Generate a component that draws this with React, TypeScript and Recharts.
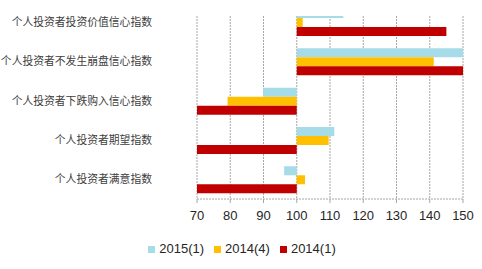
import { BarChart, Bar, XAxis, YAxis, CartesianGrid, Legend, Rectangle } from 'recharts';

// 指数基准线为 100，柱子从 100 向左右伸展
const BASE = 100;

const categories = [
  '个人投资者投资价值信心指数',
  '个人投资者不发生崩盘信心指数',
  '个人投资者下跌购入信心指数',
  '个人投资者期望指数',
  '个人投资者满意指数',
];

const series2015q1 = [114, 152, 89.9, 111.3, 96.2];
const series2014q4 = [101.8, 141.2, 79.2, 109.6, 102.5];
const series2014q1 = [145, 153, 62, 60, 61];

const xTicks = [70, 80, 90, 100, 110, 120, 130, 140, 150];

const seriesNames = ['2015(1)', '2014(4)', '2014(1)'];
const colors = ['#A6DBE8', '#FFC000', '#C00000'];

const data = categories.map((name, i) => ({
  name,
  s1: [BASE, series2015q1[i]],
  s2: [BASE, series2014q4[i]],
  s3: [BASE, series2014q1[i]],
}));

const gridStroke = '#a6a6a6';
const textColor = '#262626';
const PLOT_TOP = 16; // 原图绘图区顶边，顶部柱子被截断

const clippedBar = (props: any) => <Rectangle {...props} clipPath="url(#plot-top-clip)" />;

export default function App() {
  return (
    <div style={{ position: 'absolute', left: 0, top: 0, width: 482, height: 269, background: '#fff' }}>
      <BarChart
        width={482}
        height={269}
        data={data}
        layout="vertical"
        margin={{ top: 2.4, right: 19, bottom: 45, left: 0 }}
        barCategoryGap={6.6}
        barGap={0}
      >
        <defs>
          <clipPath id="plot-top-clip">
            <rect x={197} y={PLOT_TOP} width={266} height={183} />
          </clipPath>
        </defs>
        <CartesianGrid
          horizontal={false}
          y={PLOT_TOP}
          height={183}
          stroke={gridStroke}
          strokeDasharray="2 1"
        />
        <XAxis
          type="number"
          domain={[70, 150]}
          ticks={xTicks}
          allowDataOverflow
          axisLine={{ stroke: gridStroke, strokeDasharray: '2 1' }}
          tickLine={{ stroke: gridStroke }}
          tickSize={4}
          tickMargin={8}
          height={25}
          tick={{ fontSize: 13, fill: textColor, fontFamily: 'Liberation Sans, Arial, sans-serif' }}
        />
        <YAxis
          type="category"
          dataKey="name"
          width={197}
          axisLine={false}
          tickLine={false}
          tickSize={0}
          tickMargin={45}
          interval={0}
          tick={{ fontSize: 10.8, fill: '#404040', fontFamily: '"Noto Sans CJK SC", sans-serif' }}
        />
        <Legend
          iconType="square"
          iconSize={7}
          verticalAlign="middle"
          itemSorter={(item: any) => seriesNames.indexOf(item.value)}
          wrapperStyle={{ top: 241, left: 6, width: 482, fontSize: 13, fontFamily: 'Liberation Sans, Arial, sans-serif' }}
          formatter={(value: string) => <span style={{ color: textColor }}>{value}</span>}
        />
        <Bar dataKey="s1" name={seriesNames[0]} fill={colors[0]} shape={clippedBar} isAnimationActive={false} />
        <Bar dataKey="s2" name={seriesNames[1]} fill={colors[1]} shape={clippedBar} isAnimationActive={false} />
        <Bar dataKey="s3" name={seriesNames[2]} fill={colors[2]} shape={clippedBar} isAnimationActive={false} />
      </BarChart>
    </div>
  );
}
